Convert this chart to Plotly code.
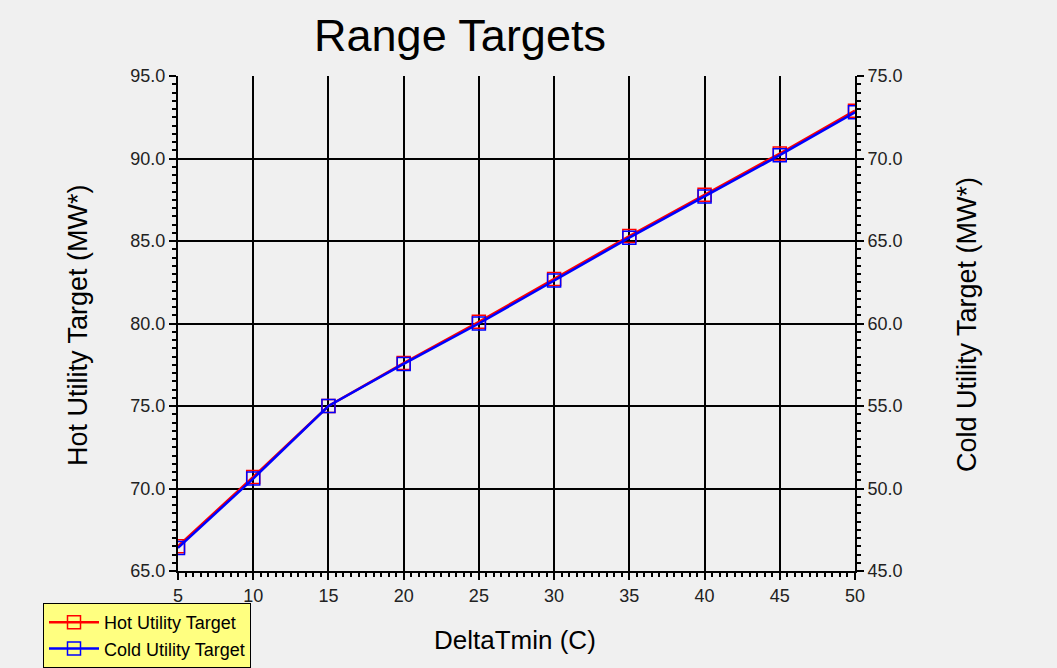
import plotly.graph_objects as go

# DeltaTmin sweep and the resulting utility targets
delta_tmin = [5, 10, 15, 20, 25, 30, 35, 40, 45, 50]
hot_utility = [66.5, 70.7, 75.0, 77.6, 80.1, 82.7, 85.3, 87.8, 90.3, 92.9]
cold_utility = [46.4, 50.6, 55.0, 57.55, 60.0, 62.6, 65.2, 67.7, 70.2, 72.8]

hot_ticks = [65, 70, 75, 80, 85, 90, 95]
cold_ticks = [45, 50, 55, 60, 65, 70, 75]
x_ticks = [5, 10, 15, 20, 25, 30, 35, 40, 45, 50]

FONT = "Liberation Sans, Arial, sans-serif"
BG = "#f0f0f0"
W, H = 1057, 668
L, R, T, B = 178, 202, 76, 97
PW, PH = W - L - R, H - T - B

fig = go.Figure()

fig.add_trace(go.Scatter(
    x=delta_tmin, y=hot_utility, name="Hot Utility Target",
    mode="lines+markers", yaxis="y",
    line=dict(color="#ff0000", width=2.5),
    marker=dict(symbol="square-open", size=13, color="#ff0000", line=dict(width=1.5)),
))
fig.add_trace(go.Scatter(
    x=delta_tmin, y=cold_utility, name="Cold Utility Target",
    mode="lines+markers", yaxis="y2",
    line=dict(color="#0000ff", width=2.5),
    marker=dict(symbol="square-open", size=13, color="#0000ff", line=dict(width=1.5)),
))

axis_common = dict(
    showline=True, linecolor="black", linewidth=2, mirror=False,
    ticks="outside", ticklen=7, tickwidth=2, tickcolor="black",
    tickfont=dict(family=FONT, size=18, color="#222222"),
    zeroline=False, automargin=False,
)
minor_ticks = dict(dtick=0.5, ticks="outside", ticklen=4, tickwidth=1.5,
                   tickcolor="black", showgrid=False)

fig.update_layout(
    width=W, height=H,
    paper_bgcolor=BG, plot_bgcolor=BG,
    margin=dict(l=L, r=R, t=T, b=B, autoexpand=False),
    title=dict(text="Range Targets", x=460 / W, xanchor="center",
               y=1 - 35 / H, yanchor="middle",
               font=dict(family=FONT, size=45, color="black")),
    xaxis=dict(
        range=[5, 50], tickvals=x_ticks,
        showgrid=True, gridcolor="#000000", gridwidth=1.5,
        minor=minor_ticks, **axis_common,
    ),
    yaxis=dict(
        range=[65, 95], tickvals=hot_ticks, tickformat=".1f",
        showgrid=True, gridcolor="#000000", gridwidth=1.5,
        minor=minor_ticks, **axis_common,
    ),
    yaxis2=dict(
        range=[45, 75], tickvals=cold_ticks, tickformat=".1f",
        overlaying="y", side="right", showgrid=False,
        minor=minor_ticks, **axis_common,
    ),
    showlegend=True,
    legend=dict(
        xref="container", yref="container",
        x=43 / W, y=1 - 603 / H, xanchor="left", yanchor="top",
        bgcolor="#ffff80", bordercolor="black", borderwidth=1,
        font=dict(family=FONT, size=18, color="black"),
        tracegroupgap=0, itemwidth=50,
    ),
    annotations=[
        dict(text="Hot Utility Target (MW*)", xref="paper", yref="paper",
             x=(78 - L) / PW, y=(H - B - 325) / PH, textangle=-90,
             showarrow=False, xanchor="center", yanchor="middle",
             font=dict(family=FONT, size=27, color="black")),
        dict(text="Cold Utility Target (MW*)", xref="paper", yref="paper",
             x=(967 - L) / PW, y=(H - B - 325) / PH, textangle=-90,
             showarrow=False, xanchor="center", yanchor="middle",
             font=dict(family=FONT, size=27, color="black")),
        dict(text="DeltaTmin (C)", xref="paper", yref="paper",
             x=(515 - L) / PW, y=-(640 - (H - B)) / PH,
             showarrow=False, xanchor="center", yanchor="middle",
             font=dict(family=FONT, size=26, color="black")),
    ],
)

fig.write_html("out.html")
